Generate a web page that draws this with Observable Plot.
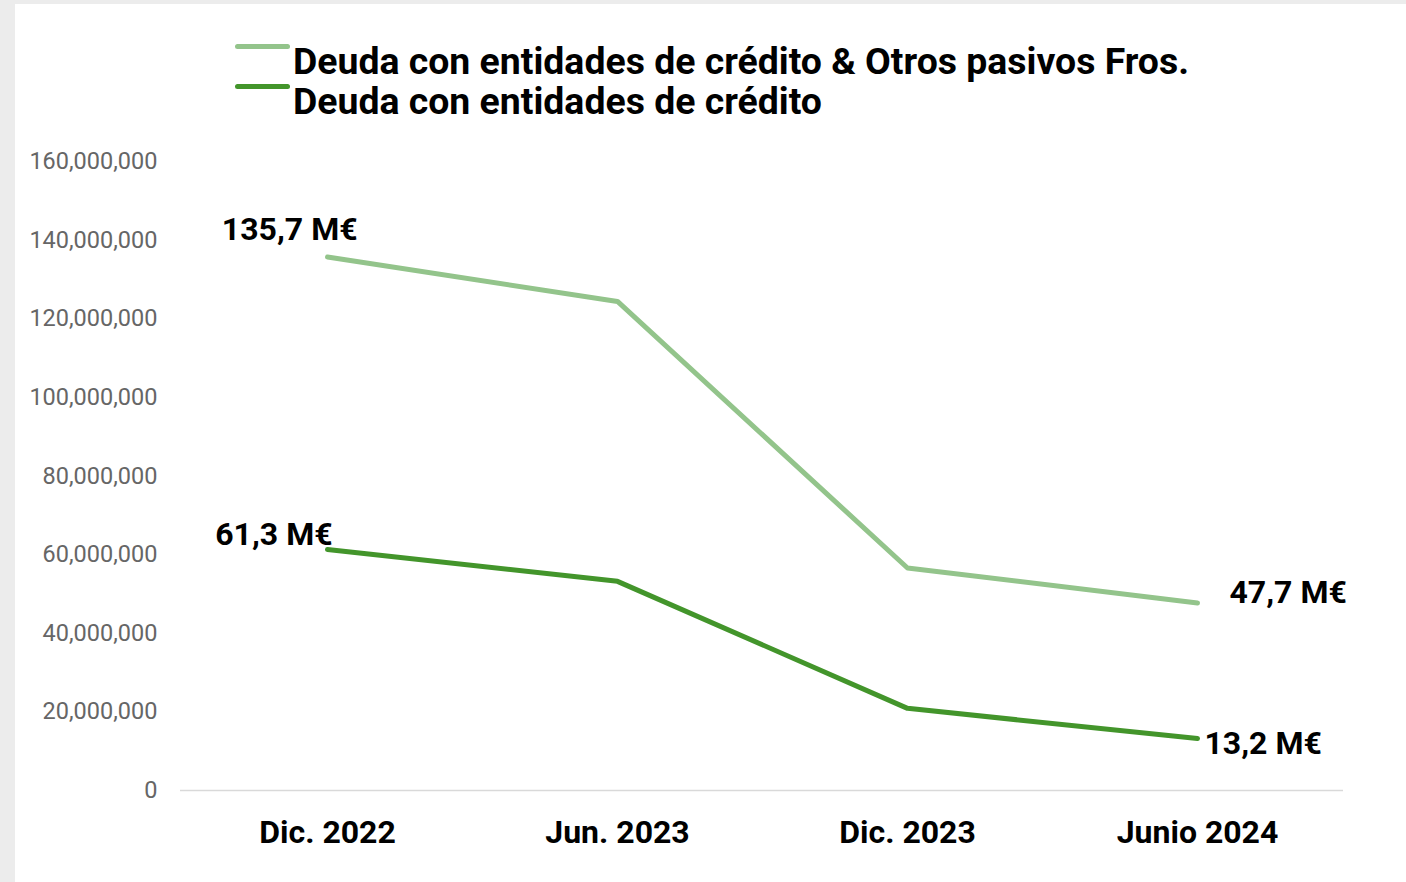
<!DOCTYPE html>
<html>
<head>
<meta charset="utf-8">
<script src="https://cdn.jsdelivr.net/npm/d3@7"></script>
<script src="https://cdn.jsdelivr.net/npm/@observablehq/plot@0.6"></script>
<style>
  html, body { margin: 0; padding: 0; width: 1406px; height: 882px; overflow: hidden; background: #ececec; font-family: Roboto, "Noto Sans", sans-serif; }
  #card { position: absolute; left: 15px; top: 4px; right: 0; bottom: 0; background: #ffffff; }
  .lg-sw { position: absolute; left: 235px; width: 55px; height: 5px; border-radius: 3px; }
  .lg-tx { position: absolute; left: 293px; white-space: nowrap; font-family: Roboto, sans-serif; font-weight: 700; font-size: 37.4px; line-height: 41px; color: #000; }
  #chart { position: absolute; left: 0; top: 130px; }
</style>
</head>
<body>
<div id="card"></div>
<div id="legend"></div>
<div id="chart"></div>
<script>
const categories = ["Dic. 2022", "Jun. 2023", "Dic. 2023", "Junio 2024"];
const seriesNames = ["Deuda con entidades de crédito & Otros pasivos Fros.", "Deuda con entidades de crédito"];
const totalDebt = [135.7e6, 124.4e6, 56.6e6, 47.7e6];
const bankDebt = [61.3e6, 53.2e6, 20.9e6, 13.2e6];
const seriesColors = ["#93c48b", "#43952b"];
const yTicks = [0, 20e6, 40e6, 60e6, 80e6, 100e6, 120e6, 140e6, 160e6];
const labelTexts = ["135,7 M€", "47,7 M€", "61,3 M€", "13,2 M€"];

// legend
const legend = document.getElementById("legend");
const legendTops = [40.5, 81];
seriesNames.forEach((name, i) => {
  const sw = document.createElement("div");
  sw.className = "lg-sw";
  sw.style.top = (legendTops[i] + 3) + "px";
  sw.style.background = seriesColors[i];
  const tx = document.createElement("div");
  tx.className = "lg-tx";
  tx.style.top = legendTops[i] + "px";
  tx.textContent = name;
  legend.appendChild(sw);
  legend.appendChild(tx);
});

const rows = [];
categories.forEach((c, i) => {
  rows.push({cat: c, value: totalDebt[i], series: seriesNames[0]});
  rows.push({cat: c, value: bankDebt[i], series: seriesNames[1]});
});
const first = categories[0], last = categories[categories.length - 1];
const lab = [
  {cat: first, value: totalDebt[0], text: labelTexts[0]},
  {cat: last, value: totalDebt[3], text: labelTexts[1]},
  {cat: first, value: bankDebt[0], text: labelTexts[2]},
  {cat: last, value: bankDebt[3], text: labelTexts[3]}
];
const fmt = d3.format(",");
const labelStyle = {fontSize: 32, fontWeight: 700, fill: "#000", fontFamily: "Roboto, sans-serif"};

const plot = Plot.plot({
  width: 1406,
  height: 752,
  marginTop: 31,
  marginBottom: 92,
  marginLeft: 180,
  marginRight: 63,
  style: {background: "transparent", fontFamily: "Roboto, sans-serif"},
  x: {type: "point", domain: categories, padding: 0.5, label: null},
  y: {domain: [0, 160e6], label: null},
  color: {domain: seriesNames, range: seriesColors},
  marks: [
    Plot.ruleY([0], {stroke: "#d9d9d9", strokeWidth: 1.5}),
    Plot.axisY({ticks: yTicks, tickSize: 0, tickPadding: 23, tickFormat: fmt, fontSize: 23.5, fill: "#666", label: null}),
    Plot.axisX({tickSize: 0, tickPadding: 30, fontSize: 32, fontWeight: 700, fill: "#000", label: null}),
    Plot.line(rows, {x: "cat", y: "value", z: "series", stroke: "series", strokeWidth: 5, strokeLinecap: "round", strokeLinejoin: "round"}),
    Plot.text(lab.slice(0, 1), {x: "cat", y: "value", text: "text", textAnchor: "end", dx: 30, dy: -27, ...labelStyle}),
    Plot.text(lab.slice(1, 2), {x: "cat", y: "value", text: "text", textAnchor: "start", dx: 32, dy: -10, ...labelStyle}),
    Plot.text(lab.slice(2, 3), {x: "cat", y: "value", text: "text", textAnchor: "end", dx: 5, dy: -15, ...labelStyle}),
    Plot.text(lab.slice(3, 4), {x: "cat", y: "value", text: "text", textAnchor: "start", dx: 7, dy: 5, ...labelStyle})
  ]
});
document.getElementById("chart").appendChild(plot);
</script>
</body>
</html>
